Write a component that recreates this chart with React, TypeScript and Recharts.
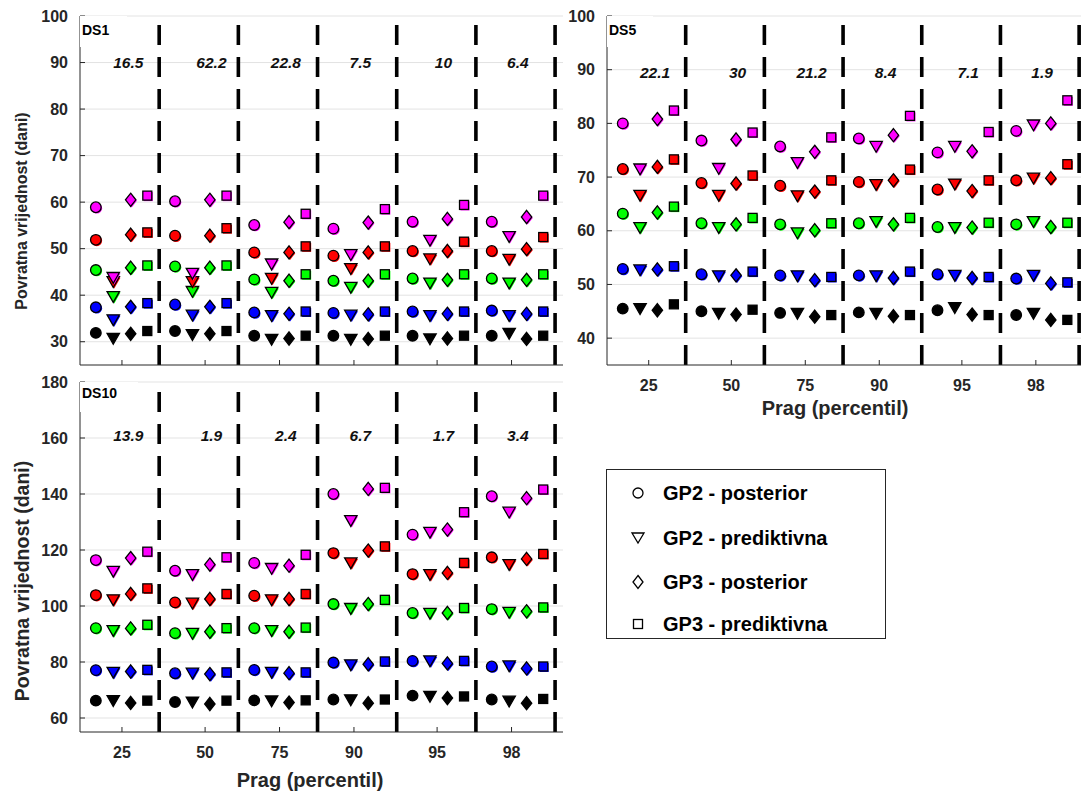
import React from "react";
import { ScatterChart, Scatter, XAxis, YAxis, CartesianGrid, ReferenceLine } from "recharts";

// x axis categories (threshold percentile) and where MATLAB put the ticks
const percentiles = ["25", "50", "75", "90", "95", "98"];
const tickPos = [0.53, 1.58, 2.52, 3.46, 4.51, 5.45];
// rows: black, blue, green, red, magenta
const rowColors = ["#000000", "#0000ff", "#00ff00", "#ff0000", "#ff00ff"];
const methods = ["GP2 - posterior", "GP2 - prediktivna", "GP3 - posterior", "GP3 - prediktivna"];
const markerKinds = ["circle", "triangle", "diamond", "square"];
const markerOffsets = [0.2, 0.42, 0.64, 0.85];

// DS1
const ds1Gp2Post = [
  [31.9, 32.3, 31.3, 31.3, 31.3, 31.3],
  [37.4, 38.0, 36.3, 36.2, 36.5, 36.7],
  [45.4, 46.2, 43.4, 43.1, 43.6, 43.6],
  [51.9, 52.8, 49.2, 48.5, 49.5, 49.5],
  [58.9, 60.2, 55.1, 54.3, 55.8, 55.8],
];
const ds1Gp2Pred = [
  [30.7, 31.5, 30.5, 30.5, 30.6, 31.8],
  [34.7, 35.7, 35.6, 35.7, 35.6, 35.6],
  [39.7, 40.8, 40.6, 41.7, 42.6, 42.6],
  [42.9, 42.9, 43.6, 45.7, 47.8, 47.7],
  [43.8, 44.7, 46.7, 48.7, 51.8, 52.6],
];
const ds1Gp3Post = [
  [31.7, 31.7, 30.7, 30.6, 30.7, 30.6],
  [37.5, 37.5, 36.0, 35.9, 36.0, 36.0],
  [45.9, 45.9, 43.1, 43.1, 43.3, 43.3],
  [53.0, 52.8, 49.2, 49.2, 49.5, 49.9],
  [60.5, 60.5, 55.7, 55.6, 56.4, 56.8],
];
const ds1Gp3Pred = [
  [32.3, 32.3, 31.3, 31.3, 31.3, 31.3],
  [38.3, 38.3, 36.5, 36.5, 36.5, 36.5],
  [46.4, 46.4, 44.5, 44.5, 44.5, 44.5],
  [53.5, 54.4, 50.5, 50.5, 51.5, 52.5],
  [61.4, 61.4, 57.5, 58.5, 59.4, 61.4],
];
const ds1Labels = ["16.5", "62.2", "22.8", "7.5", "10", "6.4"];

// DS5
const ds5Gp2Post = [
  [45.5, 45.0, 44.7, 44.8, 45.2, 44.3],
  [52.9, 51.9, 51.7, 51.7, 51.9, 51.1],
  [63.2, 61.4, 61.2, 61.4, 60.7, 61.2],
  [71.5, 68.9, 68.4, 69.1, 67.7, 69.4],
  [80.0, 76.8, 75.7, 77.2, 74.6, 78.6],
];
const ds5Gp2Pred = [
  [45.5, 44.6, 44.6, 44.6, 45.7, 44.6],
  [52.7, 51.6, 51.6, 51.6, 51.7, 51.7],
  [60.6, 60.6, 59.6, 61.7, 60.6, 61.7],
  [66.6, 66.6, 66.5, 68.6, 68.7, 69.8],
  [71.5, 71.6, 72.7, 75.7, 75.7, 79.7],
];
const ds5Gp3Post = [
  [45.2, 44.4, 44.0, 44.1, 44.4, 43.4],
  [52.8, 51.7, 50.8, 51.2, 51.2, 50.2],
  [63.4, 61.2, 60.1, 61.2, 60.6, 60.7],
  [71.9, 68.8, 67.3, 69.4, 67.4, 69.8],
  [80.8, 77.0, 74.7, 77.8, 74.8, 80.0],
];
const ds5Gp3Pred = [
  [46.3, 45.3, 44.3, 44.3, 44.3, 43.4],
  [53.4, 52.4, 51.4, 52.4, 51.4, 50.4],
  [64.5, 62.4, 61.4, 62.4, 61.5, 61.5],
  [73.3, 70.3, 69.4, 71.4, 69.4, 72.4],
  [82.4, 78.3, 77.4, 81.4, 78.4, 84.3],
];
const ds5Labels = ["22.1", "30", "21.2", "8.4", "7.1", "1.9"];

// DS10
const ds10Gp2Post = [
  [66.2, 65.7, 66.3, 66.6, 68.0, 66.6],
  [77.1, 76.0, 77.2, 79.8, 80.4, 78.4],
  [92.1, 90.3, 92.1, 100.7, 97.5, 98.9],
  [103.9, 101.3, 103.7, 118.9, 111.4, 117.4],
  [116.4, 112.6, 115.4, 140.0, 125.5, 139.2],
];
const ds10Gp2Pred = [
  [66.2, 65.7, 66.1, 66.5, 67.7, 66.0],
  [76.3, 76.0, 76.3, 79.0, 80.4, 78.6],
  [91.2, 90.2, 91.2, 99.1, 97.4, 97.7],
  [102.2, 101.0, 102.2, 115.4, 111.2, 114.8],
  [112.4, 111.2, 113.4, 130.5, 126.3, 133.5],
];
const ds10Gp3Post = [
  [65.4, 65.0, 65.5, 65.3, 67.1, 65.3],
  [76.6, 75.7, 76.0, 79.2, 79.5, 77.7],
  [92.0, 90.8, 90.8, 100.7, 97.5, 98.1],
  [104.3, 102.5, 102.5, 119.8, 111.8, 116.8],
  [117.1, 114.8, 114.4, 141.8, 127.3, 138.5],
];
const ds10Gp3Pred = [
  [66.2, 66.2, 66.3, 66.6, 67.7, 66.8],
  [77.2, 76.3, 76.3, 80.2, 80.4, 78.4],
  [93.3, 92.1, 92.3, 102.2, 99.3, 99.5],
  [106.3, 104.3, 104.3, 121.3, 115.4, 118.6],
  [119.4, 117.4, 118.3, 142.2, 133.5, 141.6],
];
const ds10Labels = ["13.9", "1.9", "2.4", "6.7", "1.7", "3.4"];

const FONT = '"Liberation Sans", Arial, Helvetica, sans-serif';
const AXIS = "#262626";
const separators = [1, 2, 3, 4, 5, 6];

function buildPoints(values: number[][], m: number) {
  const pts: { x: number; y: number; color: string }[] = [];
  values.forEach((row, r) =>
    row.forEach((v, g) => pts.push({ x: g + markerOffsets[m], y: v, color: rowColors[r] }))
  );
  return pts;
}

function drawShape(kind: string, cx: number, cy: number, fill: string, stroke: string, key: string) {
  const sw = stroke === "none" ? 0 : 1.3;
  if (kind === "circle") return <circle key={key} cx={cx} cy={cy} r={5.3} fill={fill} stroke={stroke} strokeWidth={sw} />;
  if (kind === "triangle")
    return (
      <polygon key={key} points={`${cx - 6.2},${cy - 5} ${cx + 6.2},${cy - 5} ${cx},${cy + 5.8}`} fill={fill} stroke={stroke} strokeWidth={sw} strokeLinejoin="miter" />
    );
  if (kind === "diamond")
    return (
      <polygon key={key} points={`${cx},${cy - 6.6} ${cx + 5.2},${cy} ${cx},${cy + 6.6} ${cx - 5.2},${cy}`} fill={fill} stroke={stroke} strokeWidth={sw} />
    );
  return <rect key={key} x={cx - 4.5} y={cy - 4.5} width={9} height={9} fill={fill} stroke={stroke} strokeWidth={sw} />;
}

const makeMarker = (kind: string) => (props: any) => {
  const { cx, cy, payload } = props;
  if (cx == null || cy == null) return <g />;
  const c = payload.color;
  return (
    <g>
      {c !== "#000000" && drawShape(kind, cx + 1, cy + 1, c, "none", "s")}
      {drawShape(kind, cx, cy, c, "#000", "m")}
    </g>
  );
};

const groupLabel = (props: any) => {
  const { cx, cy, payload } = props;
  return (
    <text x={cx} y={cy} textAnchor="middle" dominantBaseline="central" fontFamily={FONT} fontSize={15.5} fontStyle="italic" fontWeight="bold" fill="#111">
      {payload.text}
    </text>
  );
};

interface PanelProps {
  left: number;
  top: number;
  plotW: number;
  plotH: number;
  xh: number;
  yDomain: [number, number];
  yTicks: number[];
  series: number[][][];
  labels: string[];
  labelY: number;
  showXTicks: boolean;
}

function Panel({ left, top, plotW, plotH, xh, yDomain, yTicks, series, labels, labelY, showXTicks }: PanelProps) {
  const W = 80 + plotW + 15;
  const H = 16 + plotH + xh;
  const tickStyle = { fontFamily: FONT, fontSize: 16, fontWeight: "bold", fill: AXIS } as any;
  const labelData = labels.map((t, i) => ({ x: tickPos[i] + 0.08, y: labelY, text: t }));
  return (
    <div style={{ position: "absolute", left, top }}>
      <ScatterChart width={W} height={H} margin={{ top: 16, right: 15, bottom: 0, left: 0 }}>
        <CartesianGrid xAxisId="b" yAxisId="l" vertical={false} stroke="#e3e3e3" horizontalValues={yTicks} />
        <XAxis
          xAxisId="b"
          type="number"
          dataKey="x"
          domain={[0, 6.1]}
          ticks={tickPos}
          interval={0}
          height={xh}
          tickSize={-5}
          tickMargin={showXTicks ? 20 : 0}
          tickFormatter={(v: number) => (showXTicks ? percentiles[tickPos.indexOf(v)] : "")}
          axisLine={{ stroke: AXIS }}
          tickLine={{ stroke: AXIS }}
          tick={tickStyle}
        />
        <XAxis
          xAxisId="t"
          orientation="top"
          type="number"
          dataKey="x"
          domain={[0, 6.1]}
          ticks={tickPos}
          interval={0}
          height={0}
          tickSize={-5}
          tickFormatter={() => ""}
          axisLine={{ stroke: AXIS }}
          tickLine={{ stroke: AXIS }}
        />
        <YAxis
          yAxisId="l"
          type="number"
          dataKey="y"
          domain={yDomain}
          ticks={yTicks}
          interval={0}
          width={80}
          tickSize={-5}
          tickMargin={17}
          axisLine={{ stroke: AXIS }}
          tickLine={{ stroke: AXIS }}
          tick={tickStyle}
        />
        <YAxis
          yAxisId="r"
          orientation="right"
          type="number"
          dataKey="y"
          domain={yDomain}
          ticks={yTicks}
          interval={0}
          width={0}
          tickSize={-5}
          tickFormatter={() => ""}
          axisLine={{ stroke: AXIS }}
          tickLine={{ stroke: AXIS }}
        />
        {separators.map((k) => (
          <ReferenceLine
            key={`sep-${k}`}
            xAxisId="b"
            yAxisId="l"
            segment={[
              { x: k, y: yDomain[0] },
              { x: k, y: yDomain[1] },
            ]}
            stroke="#000"
            strokeWidth={3.6}
            strokeDasharray="20 12"
          />
        ))}
        {series.map((vals, m) => (
          <Scatter
            key={methods[m]}
            name={methods[m]}
            xAxisId="b"
            yAxisId="l"
            data={buildPoints(vals, m)}
            shape={makeMarker(markerKinds[m])}
            isAnimationActive={false}
          />
        ))}
        <Scatter xAxisId="b" yAxisId="l" data={labelData} shape={groupLabel} isAnimationActive={false} />
      </ScatterChart>
    </div>
  );
}

const abs = (l: number, t: number, extra: React.CSSProperties = {}): React.CSSProperties => ({
  position: "absolute",
  left: l,
  top: t,
  fontFamily: FONT,
  color: AXIS,
  whiteSpace: "nowrap",
  ...extra,
});

function LegendIcon({ kind }: { kind: string }) {
  return (
    <svg width={16} height={16} style={{ position: "absolute", left: 0, top: 0 }}>
      {kind === "circle" && <circle cx={8} cy={8} r={5} fill="#fff" stroke="#000" strokeWidth={1.3} />}
      {kind === "triangle" && <polygon points="2,3 14,3 8,13" fill="#fff" stroke="#000" strokeWidth={1.3} />}
      {kind === "diamond" && <polygon points="8,1.5 13,8 8,14.5 3,8" fill="#fff" stroke="#000" strokeWidth={1.3} />}
      {kind === "square" && <rect x={3.5} y={3.5} width={9} height={9} fill="#fff" stroke="#000" strokeWidth={1.3} />}
    </svg>
  );
}

export default function App() {
  const legendRows = [493, 538, 582, 624];
  return (
    <div style={{ position: "absolute", left: 0, top: 0, width: 1081, height: 794, overflow: "hidden", background: "#fff" }}>
      <Panel
        left={0}
        top={0}
        plotW={483}
        plotH={349}
        xh={10}
        yDomain={[25, 100]}
        yTicks={[30, 40, 50, 60, 70, 80, 90, 100]}
        series={[ds1Gp2Post, ds1Gp2Pred, ds1Gp3Post, ds1Gp3Pred]}
        labels={ds1Labels}
        labelY={90}
        showXTicks={false}
      />
      <Panel
        left={527}
        top={0}
        plotW={480}
        plotH={349}
        xh={60}
        yDomain={[35, 100]}
        yTicks={[40, 50, 60, 70, 80, 90, 100]}
        series={[ds5Gp2Post, ds5Gp2Pred, ds5Gp3Post, ds5Gp3Pred]}
        labels={ds5Labels}
        labelY={89.4}
        showXTicks={true}
      />
      <Panel
        left={0}
        top={366}
        plotW={483}
        plotH={350}
        xh={60}
        yDomain={[55, 180]}
        yTicks={[60, 80, 100, 120, 140, 160, 180]}
        series={[ds10Gp2Post, ds10Gp2Pred, ds10Gp3Post, ds10Gp3Pred]}
        labels={ds10Labels}
        labelY={161}
        showXTicks={true}
      />

      {/* panel titles sit in white boxes over the axes corner */}
      <div style={abs(80, 16, { width: 47, height: 31, background: "#fff" })} />
      <div style={abs(82, 22, { fontSize: 14, fontWeight: "bold", lineHeight: "16px", color: "#000" })}>DS1</div>
      <div style={abs(607, 16, { width: 46, height: 31, background: "#fff" })} />
      <div style={abs(609, 22, { fontSize: 14, fontWeight: "bold", lineHeight: "16px", color: "#000" })}>DS5</div>
      <div style={abs(80, 382, { width: 58, height: 30, background: "#fff" })} />
      <div style={abs(82, 385, { fontSize: 14, fontWeight: "bold", lineHeight: "16px", color: "#000" })}>DS10</div>

      {/* axis titles */}
      <div style={abs(22, 211, { fontSize: 16, fontWeight: "bold", transform: "translate(-50%, -50%) rotate(-90deg)" })}>
        Povratna vrijednost (dani)
      </div>
      <div style={abs(22, 581, { fontSize: 19.5, fontWeight: "bold", transform: "translate(-50%, -50%) rotate(-90deg)" })}>
        Povratna vrijednost (dani)
      </div>
      <div style={abs(835, 408, { fontSize: 20, fontWeight: "bold", transform: "translate(-50%, -50%)" })}>Prag (percentil)</div>
      <div style={abs(310, 780, { fontSize: 20, fontWeight: "bold", transform: "translate(-50%, -50%)" })}>Prag (percentil)</div>

      {/* legend */}
      <div style={abs(606, 469, { width: 280, height: 170, border: "1px solid #262626", boxSizing: "border-box", background: "#fff" })} />
      {methods.map((name, i) => (
        <React.Fragment key={name}>
          <div style={abs(630, legendRows[i] - 8, { width: 16, height: 16 })}>
            <LegendIcon kind={markerKinds[i]} />
          </div>
          <div style={abs(663, legendRows[i], { fontSize: 20, fontWeight: "bold", color: "#000", transform: "translateY(-50%)" })}>
            {name}
          </div>
        </React.Fragment>
      ))}
    </div>
  );
}
